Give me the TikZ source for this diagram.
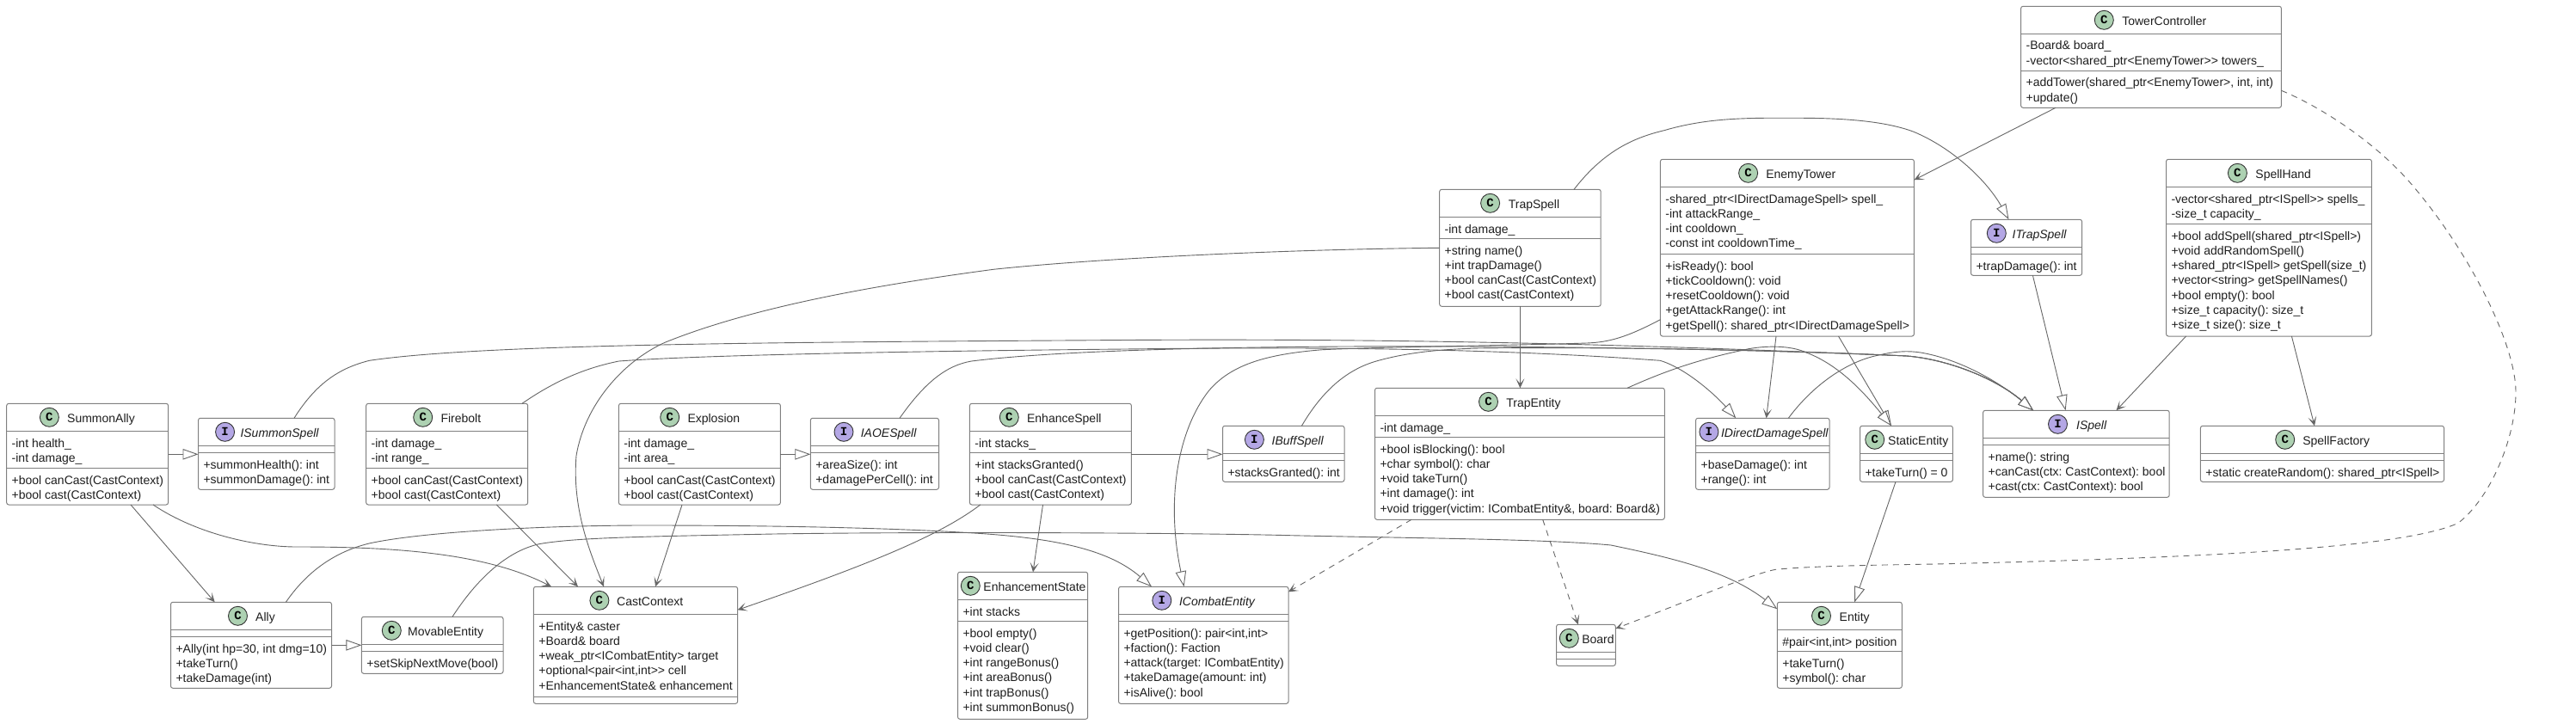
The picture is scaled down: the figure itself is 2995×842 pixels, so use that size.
\documentclass[tikz,border=0pt]{standalone}
\usepackage{fontspec}
\setmainfont{Liberation Sans}
\newfontfamily\umono{Liberation Mono}
\usetikzlibrary{arrows.meta}
\frenchspacing
\definecolor{uline}{HTML}{666666}
\definecolor{uborder}{HTML}{808080}
\definecolor{ugreen}{HTML}{ADD1B2}
\definecolor{upurple}{HTML}{B4A7E5}
\definecolor{utext}{HTML}{1E1E1E}
\tikzset{
  umlbox/.style={draw=uborder,fill=white,line width=1pt,rounded corners=2.5pt,inner sep=0pt,outer sep=0pt,anchor=north west},
  usep/.style={draw=uborder,line width=1pt},
  ucirc/.style={circle,draw=black!80,line width=.9pt,minimum size=22pt,inner sep=0pt,text=black,font=\umono\bfseries\fontsize{14}{14}\selectfont},
  iconC/.style={fill=ugreen},
  iconI/.style={fill=upurple},
  ttlC/.style={font=\fontsize{14}{17.33}\selectfont\frenchspacing,text=utext,inner sep=0pt},
  ttlI/.style={font=\itshape\fontsize{14}{17.33}\selectfont\frenchspacing,text=utext,inner sep=0pt},
  memb/.style={font=\fontsize{14}{17.33}\selectfont\frenchspacing,text=utext,inner sep=0pt,outer sep=0pt,align=left,anchor=north west},
  conn/.style={draw=uline,line width=.9pt},
  assoc/.style={conn,-{Stealth[length=11pt,width=10pt,inset=6pt]}},
  depend/.style={assoc,dash pattern=on 7pt off 6pt},
  inherit/.style={conn,-{Triangle[open,length=18pt,width=12.5pt,fill=white]}},
}
% id x0 y0 x1 y1 sep2
\newcommand\ucls[6]{%
  \pgfmathsetmacro\uwid{#4-(#2)}\pgfmathsetmacro\uhgt{#5-(#3)}\pgfmathsetmacro\usec{#6-(#3)}%
  \node[umlbox,minimum width=\uwid pt,minimum height=\uhgt pt] (#1) at (#2,#3) {};
  \draw[usep] ([yshift=-32pt]#1.north west) -- ([yshift=-32pt]#1.north east);
  \draw[usep] ([yshift=-\usec pt]#1.north west) -- ([yshift=-\usec pt]#1.north east);
}
% id kind cx tx y0 title
\newcommand\uhead[6]{%
  \node[ucirc,icon#2] (#1-c) at (#3,#5+16) {#2};
  \node[ttl#2,anchor=base west] (#1-t) at (#4,#5+22) {#6};
}
% name x sepY lines
\newcommand\umem[4]{\node[memb] (#1) at (#2,#3+6.57) {\strut #4};}
\begin{document}
\begin{tikzpicture}[x=1pt,y=-1pt]
\useasboundingbox (0,0) rectangle (2995,842);
\fill[white] (0,0) rectangle (2995,842);

% ---------- classes
\ucls{sa}{7.7}{469.3}{195.6}{587}{544.3}
\uhead{sa}{C}{57.4}{78}{469.3}{SummonAlly}
\umem{sa-a}{13.7}{501.3}{-int health\_\\-int damage\_}
\umem{sa-m}{13.7}{544.3}{+bool canCast(CastContext)\\+bool cast(CastContext)}

\ucls{isum}{230.5}{486.3}{389}{569.3}{526.3}
\uhead{isum}{I}{261.6}{279.3}{486.3}{ISummonSpell}
\umem{isum-m}{236.5}{526.3}{+summonHealth(): int\\+summonDamage(): int}

\ucls{fb}{425.7}{469.3}{613.7}{587}{544.3}
\uhead{fb}{C}{491.7}{512.3}{469.3}{Firebolt}
\umem{fb-a}{431.7}{501.3}{-int damage\_\\-int range\_}
\umem{fb-m}{431.7}{544.3}{+bool canCast(CastContext)\\+bool cast(CastContext)}

\ucls{ex}{719.4}{469.3}{907.4}{587}{544.3}
\uhead{ex}{C}{778.7}{799.3}{469.3}{Explosion}
\umem{ex-a}{725.4}{501.3}{-int damage\_\\-int area\_}
\umem{ex-m}{725.4}{544.3}{+bool canCast(CastContext)\\+bool cast(CastContext)}

\ucls{iaoe}{942.3}{486.3}{1091.5}{569.3}{526.3}
\uhead{iaoe}{I}{981}{1000.6}{486.3}{IAOESpell}
\umem{iaoe-m}{948.3}{526.3}{+areaSize(): int\\+damagePerCell(): int}

\ucls{en}{1127.4}{469.3}{1315.4}{587}{526.3}
\uhead{en}{C}{1173.3}{1193.9}{469.3}{EnhanceSpell}
\umem{en-a}{1133.4}{501.3}{-int stacks\_}
\umem{en-m}{1133.4}{526.3}{+int stacksGranted()\\+bool canCast(CastContext)\\+bool cast(CastContext)}

\ucls{ibuff}{1421.5}{495.3}{1563}{560.3}{535.3}
\uhead{ibuff}{I}{1458.4}{1478.5}{495.3}{IBuffSpell}
\umem{ibuff-m}{1427.5}{535.3}{+stacksGranted(): int}

\ucls{te}{1598.5}{451.3}{1935.3}{604.3}{508.3}
\uhead{te}{C}{1730.5}{1751.1}{451.3}{TrapEntity}
\umem{te-a}{1604.5}{483.3}{-int damage\_}
\umem{te-m}{1604.5}{508.3}{+bool isBlocking(): bool\\+char symbol(): char\\+void takeTurn()\\+int damage(): int\\+void trigger(victim: ICombatEntity\&, board: Board\&)}

\ucls{idd}{1971.6}{486.3}{2127}{569.3}{526.3}
\uhead{idd}{I}{1986.9}{2000.8}{486.3}{IDirectDamageSpell}
\umem{idd-m}{1977.6}{526.3}{+baseDamage(): int\\+range(): int}

\ucls{st}{2162.5}{495.3}{2270.4}{560.3}{535.3}
\uhead{st}{C}{2179.7}{2195}{495.3}{StaticEntity}
\umem{st-m}{2168.5}{535.3}{+takeTurn() = 0}

\ucls{isp}{2305.6}{477.3}{2522.2}{578.3}{517.3}
\uhead{isp}{I}{2392.5}{2413.9}{477.3}{ISpell}
\umem{isp-m}{2311.6}{517.3}{+name(): string\\+canCast(ctx: CastContext): bool\\+cast(ctx: CastContext): bool}

\ucls{sf}{2558.4}{495.3}{2841.5}{560.3}{535.3}
\uhead{sf}{C}{2656.7}{2677.1}{495.3}{SpellFactory}
\umem{sf-m}{2564.4}{535.3}{+static createRandom(): shared\_ptr<ISpell>}

\ucls{al}{198.5}{700.3}{385.5}{800.3}{740.3}
\uhead{al}{C}{276.5}{297}{700.3}{Ally}
\umem{al-m}{204.5}{740.3}{+Ally(int hp=30, int dmg=10)\\+takeTurn()\\+takeDamage(int)}

\ucls{mv}{420.4}{717.3}{585}{783.3}{757.3}
\uhead{mv}{C}{455.3}{474}{717.3}{MovableEntity}
\umem{mv-m}{426.4}{757.3}{+setSkipNextMove(bool)}

\ucls{cc}{620.4}{682.3}{857.6}{818.3}{810.3}
\uhead{cc}{C}{696.9}{717}{682.3}{CastContext}
\umem{cc-a}{626.4}{714.3}{+Entity\& caster\\+Board\& board\\+weak\_ptr<ICombatEntity> target\\+optional<pair<int,int>{}> cell\\+EnhancementState\& enhancement}

\ucls{es}{1113.5}{665.3}{1264.7}{836.3}{722.3}
\uhead{es}{C}{1128.3}{1143.2}{665.3}{EnhancementState}
\umem{es-a}{1119.5}{697.3}{+int stacks}
\umem{es-m}{1119.5}{722.3}{+bool empty()\\+void clear()\\+int rangeBonus()\\+int areaBonus()\\+int trapBonus()\\+int summonBonus()}

\ucls{ic}{1300.5}{682.3}{1498}{818.3}{722.3}
\uhead{ic}{I}{1350.8}{1370.8}{682.3}{ICombatEntity}
\umem{ic-m}{1306.5}{722.3}{+getPosition(): pair<int,int>\\+faction(): Faction\\+attack(target: ICombatEntity)\\+takeDamage(amount: int)\\+isAlive(): bool}

\ucls{bd}{1809.5}{726.3}{1878.3}{774.3}{766.3}
\uhead{bd}{C}{1824.3}{1839.1}{726.3}{Board}

\ucls{et}{2066.3}{700.3}{2211.3}{800.3}{757.3}
\uhead{et}{C}{2117.5}{2138.5}{700.3}{Entity}
\umem{et-a}{2072.3}{732.3}{\#pair<int,int> position}
\umem{et-m}{2072.3}{757.3}{+takeTurn()\\+symbol(): char}

\ucls{ts}{1673.7}{220.3}{1861.2}{356.3}{277.3}
\uhead{ts}{C}{1732.6}{1753.6}{220.3}{TrapSpell}
\umem{ts-a}{1679.7}{252.3}{-int damage\_}
\umem{ts-m}{1679.7}{277.3}{+string name()\\+int trapDamage()\\+bool canCast(CastContext)\\+bool cast(CastContext)}

\ucls{eto}{1930.4}{185.3}{2225.4}{391}{295.3}
\uhead{eto}{C}{2032.6}{2053.1}{185.3}{EnemyTower}
\umem{eto-a}{1936.4}{217.3}{-shared\_ptr<IDirectDamageSpell> spell\_\\-int attackRange\_\\-int cooldown\_\\-const int cooldownTime\_}
\umem{eto-m}{1936.4}{295.3}{+isReady(): bool\\+tickCooldown(): void\\+resetCooldown(): void\\+getAttackRange(): int\\+getSpell(): shared\_ptr<IDirectDamageSpell>}

\ucls{itr}{2291.5}{255.3}{2420.6}{320.3}{295.3}
\uhead{itr}{I}{2321.3}{2339.5}{255.3}{ITrapSpell}
\umem{itr-m}{2297.5}{295.3}{+trapDamage(): int}

\ucls{tc}{2349.6}{7.3}{2652.4}{125.3}{82.3}
\uhead{tc}{C}{2446.3}{2467.1}{7.3}{TowerController}
\umem{tc-a}{2355.6}{39.3}{-Board\& board\_\\-vector<shared\_ptr<EnemyTower>{}> towers\_}
\umem{tc-m}{2355.6}{82.3}{+addTower(shared\_ptr<EnemyTower>, int, int)\\+update()}

\ucls{sh}{2518.5}{185.3}{2757.4}{391}{260.3}
\uhead{sh}{C}{2601.4}{2622.2}{185.3}{SpellHand}
\umem{sh-a}{2524.5}{217.3}{-vector<shared\_ptr<ISpell>{}> spells\_\\-size\_t capacity\_}
\umem{sh-m}{2524.5}{260.3}{+bool addSpell(shared\_ptr<ISpell>)\\+void addRandomSpell()\\+shared\_ptr<ISpell> getSpell(size\_t)\\+vector<string> getSpellNames()\\+bool empty(): bool\\+size\_t capacity(): size\_t\\+size\_t size(): size\_t}

% ---------- straight inheritance
\draw[inherit] ([yshift=-59pt]sa.north east) -- ([yshift=-42pt]isum.north west);
\draw[inherit] ([yshift=-59pt]ex.north east) -- ([yshift=-42pt]iaoe.north west);
\draw[inherit] ([yshift=-59pt]en.north east) -- ([yshift=-33pt]ibuff.north west);
\draw[inherit] ([yshift=-50pt]al.north east) -- ([yshift=-33pt]mv.north west);
\draw[inherit] ([xshift=41.5pt]st.south west) -- ([xshift=-6.5pt,xshift=96.4pt]et.north west);
\draw[inherit] ([xshift=71.9pt]itr.south west) -- ([xshift=96pt]isp.north west);
\draw[inherit] ([xshift=207.1pt]eto.south west) -- ([xshift=36.5pt]st.north west);

% ---------- straight associations
\draw[assoc] ([xshift=144.3pt]sa.south west) -- ([xshift=51.2pt]al.north west);
\draw[assoc] ([xshift=151.6pt]fb.south west) -- ([xshift=51.6pt]cc.north west);
\draw[assoc] ([xshift=73.6pt]ex.south west) -- ([xshift=141.6pt]cc.north west);
\draw[assoc] ([xshift=85.1pt]en.south west) -- ([xshift=87.5pt]es.north west);
\draw[assoc] ([xshift=93.7pt]ts.south west) -- ([xshift=168.9pt]te.north west);
\draw[assoc] ([xshift=134.6pt]eto.south west) -- ([xshift=82pt]idd.north west);
\draw[assoc] ([xshift=40.4pt]tc.south west) -- ([yshift=-24pt]eto.north east);
\draw[assoc] ([xshift=23.1pt]sh.south west) -- ([xshift=154.9pt]isp.north west);
\draw[assoc] ([xshift=145.9pt]sh.south west) -- ([xshift=132.6pt]sf.north west);

% ---------- dashed
\draw[depend] ([xshift=42.5pt]te.south west) -- ([yshift=-6pt]ic.north east);
\draw[depend] ([xshift=195.2pt]te.south west) -- ([xshift=25.3pt]bd.north west);
\draw[depend] ([yshift=-98pt]tc.north east) .. controls (2700,125) and (2760,165) .. (2800,210)
  .. controls (2870,290) and (2925,400) .. (2925,456)
  .. controls (2925,510) and (2895,580) .. (2858,608.3)
  .. controls (2800,635) and (2600,648) .. (2250,656)
  .. controls (2190,657) and (2110,658) .. (2064.4,662.3)
  .. controls (2035,668) and (1960,700) .. ([yshift=-4.7pt]bd.north east);

% ---------- curved associations
\draw[assoc] ([xshift=170.3pt]sa.south west) .. controls (230,622) and (300,636) .. (344.4,636)
  .. controls (440,636) and (560,640) .. ([xshift=20.6pt]cc.north west);
\draw[assoc] ([yshift=-68pt]ts.north west) .. controls (1500,290) and (1280,300) .. (1155,313.3)
  .. controls (1030,330) and (880,355) .. (773,398.3)
  .. controls (725,420) and (680,470) .. (670,530)
  .. controls (665,590) and (685,640) .. ([xshift=81.6pt]cc.north west);
\draw[assoc] ([xshift=12.4pt]en.south west) .. controls (1090,625) and (1000,660) .. ([yshift=-27pt]cc.north east);

% ---------- curved inheritance
\draw[inherit] ([xshift=111.5pt]isum.north west) .. controls (368,445) and (395,428) .. (429.5,419.3)
  .. controls (560,400) and (900,398) .. (1312,395.5)
  .. controls (1700,393) and (2000,405) .. (2217,414)
  .. controls (2265,418) and (2320,440) .. ([xshift=58.4pt]isp.north west);
\draw[inherit] ([xshift=181.3pt]fb.north west) .. controls (645,443) and (680,428) .. (719.6,420)
  .. controls (800,414) and (1000,409) .. (1308,406)
  .. controls (1550,403) and (1750,406) .. (1930,419.3)
  .. controls (1960,428) and (1995,460) .. ([xshift=46.7pt]idd.north west);
\draw[inherit] ([xshift=103.7pt]iaoe.north west) .. controls (1075,445) and (1100,425) .. (1129.5,420)
  .. controls (1250,405) and (1500,402) .. (1700,403)
  .. controls (1900,404) and (2100,408) .. (2217,414)
  .. controls (2265,418) and (2320,440) .. ([xshift=58.4pt]isp.north west);
\draw[inherit] ([xshift=91.9pt]ibuff.north west) .. controls (1540,450) and (1570,428) .. (1602.7,419.3)
  .. controls (1640,409) and (1680,406) .. (1720,405)
  .. controls (1900,403) and (2100,409) .. (2217,414)
  .. controls (2265,418) and (2320,440) .. ([xshift=58.4pt]isp.north west);
\draw[inherit] ([xshift=107.7pt]idd.north west) .. controls (2110,445) and (2150,420) .. (2183,413.3)
  .. controls (2205,408) and (2220,408) .. (2233,410)
  .. controls (2280,418) and (2325,445) .. ([xshift=58.4pt]isp.north west);
\draw[inherit] ([yshift=-186.4pt]eto.north west) .. controls (1890,393) and (1870,398) .. (1845,399)
  .. controls (1750,402) and (1620,403) .. (1537.8,406.7)
  .. controls (1470,412) and (1430,425) .. (1405,455)
  .. controls (1370,500) and (1355,580) .. ([xshift=76.1pt]ic.north west);
\draw[inherit] ([xshift=293.5pt]te.north west) .. controls (1950,425) and (1990,415) .. (2033,405.7)
  .. controls (2060,401) and (2085,403) .. (2100,410)
  .. controls (2140,425) and (2170,460) .. ([xshift=36.5pt]st.north west);
\draw[inherit] ([xshift=156.3pt]ts.north west) .. controls (1865,175) and (1900,160) .. (1934.8,151.7)
  .. controls (1985,137) and (2030,137) .. (2086.6,137.3)
  .. controls (2150,137) and (2195,142) .. (2225,153.3)
  .. controls (2270,172) and (2310,210) .. ([xshift=44pt]itr.north west);
\draw[inherit] ([xshift=133.9pt]al.north west) .. controls (360,660) and (395,640) .. (430.5,631.7)
  .. controls (500,617) and (650,611) .. (750,611)
  .. controls (900,611) and (1040,614) .. (1132.6,620)
  .. controls (1230,626) and (1290,640) .. ([xshift=38.5pt]ic.north west);
\draw[inherit] ([xshift=105.6pt]mv.north west) .. controls (560,665) and (595,640) .. (626.6,632.7)
  .. controls (670,625) and (750,624) .. (900,621)
  .. controls (1100,618) and (1400,620) .. (1500,622.7)
  .. controls (1650,626) and (1800,627) .. (1873,634)
  .. controls (1950,650) and (2010,665) .. ([yshift=-8pt]et.north west);
\end{tikzpicture}
\end{document}
